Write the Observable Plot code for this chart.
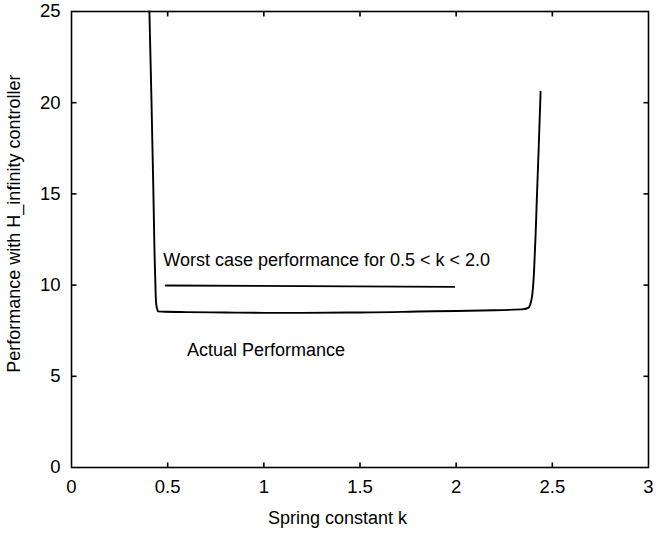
<!DOCTYPE html>
<html>
<head>
<meta charset="utf-8">
<script src="https://cdn.jsdelivr.net/npm/d3@7"></script>
<script src="https://cdn.jsdelivr.net/npm/@observablehq/plot@0.6"></script>
<style>
  html, body { margin: 0; padding: 0; background: #fff; }
</style>
</head>
<body>
<div id="chart"></div>
<script>
// Actual performance curve (spring constant k, performance)
const actualK = [0.405, 0.415, 0.425, 0.435, 0.44, 0.45, 0.6, 0.8, 1.0, 1.2, 1.5, 1.8, 2.0, 2.2, 2.35, 2.38, 2.396, 2.41, 2.42, 2.43, 2.439];
const actualV = [25, 20.5, 15.5, 10.5, 9.0, 8.55, 8.52, 8.5, 8.48, 8.48, 8.5, 8.55, 8.58, 8.62, 8.68, 8.8, 9.5, 12.0, 14.9, 17.8, 20.6];

// Worst case performance for 0.5 < k < 2.0
const worstK = [0.49, 1.99];
const worstV = [9.98, 9.9];

// Annotations
const noteText = ["Worst case performance for 0.5 < k < 2.0", "Actual Performance"];
const noteK = [0.477, 0.60];
const noteV = [11.35, 6.45];

// Axes
const xTicks = [0, 0.5, 1, 1.5, 2, 2.5, 3];
const xTickLabels = ["0", "0.5", "1", "1.5", "2", "2.5", "3"];
const yTicks = [0, 5, 10, 15, 20, 25];
const yTickLabels = ["0", "5", "10", "15", "20", "25"];
const xLabel = "Spring constant k";
const yLabel = "Performance with H_infinity controller";

const actual = actualK.map((k, i) => ({k, v: actualV[i]}));
const worst = worstK.map((k, i) => ({k, v: worstV[i]}));
const notes = noteText.map((t, i) => ({t, k: noteK[i], v: noteV[i]}));

const font = "'Liberation Sans', Arial, Helvetica, sans-serif";
const W = 656, H = 539, mL = 71, mR = 8, mT = 11, mB = 72;
const plotW = W - mL - mR, plotH = H - mT - mB, tkPx = 5;
const xMax = 3, yMax = 25;
const tkX = tkPx * xMax / plotW, tkY = tkPx * yMax / plotH;
const innerX = xTicks.slice(1, -1), innerY = yTicks.slice(1, -1);
const tickStyle = {stroke: "#000", strokeWidth: 1.6};

const chart = Plot.plot({
  width: W,
  height: H,
  marginLeft: mL,
  marginRight: mR,
  marginTop: mT,
  marginBottom: mB,
  style: {fontFamily: font, fontSize: "18px", color: "#000", background: "#fff"},
  x: {domain: [0, xMax]},
  y: {domain: [0, yMax]},
  marks: [
    Plot.frame({stroke: "#000", strokeWidth: 1.6}),
    Plot.axisX({anchor: "bottom", ticks: xTicks, tickSize: 0, tickPadding: 12,
      tickFormat: (d) => xTickLabels[xTicks.indexOf(d)], label: null, fontSize: 18.5}),
    Plot.axisY({anchor: "left", ticks: yTicks, tickSize: 0, tickPadding: 11,
      tickFormat: (d) => yTickLabels[yTicks.indexOf(d)], label: null, fontSize: 18.5}),
    // inward ticks on all four sides
    Plot.link(innerX, {x1: (d) => d, x2: (d) => d, y1: () => 0, y2: () => tkY, ...tickStyle}),
    Plot.link(innerX, {x1: (d) => d, x2: (d) => d, y1: () => yMax - tkY, y2: () => yMax, ...tickStyle}),
    Plot.link(innerY, {y1: (d) => d, y2: (d) => d, x1: () => 0, x2: () => tkX, ...tickStyle}),
    Plot.link(innerY, {y1: (d) => d, y2: (d) => d, x1: () => xMax - tkX, x2: () => xMax, ...tickStyle}),
    // curves
    Plot.line(actual, {x: "k", y: "v", stroke: "#000", strokeWidth: 1.9, curve: "monotone-y"}),
    Plot.line(worst, {x: "k", y: "v", stroke: "#000", strokeWidth: 1.9}),
    // annotations
    Plot.text(notes, {x: "k", y: "v", text: "t", textAnchor: "start", fontSize: 18, fill: "#000"}),
    // axis titles
    Plot.text([xLabel], {x: [1.383], frameAnchor: "bottom", dy: 56, text: (d) => d, fontSize: 18, fill: "#000"}),
    Plot.text([yLabel], {y: [13.37], frameAnchor: "left", dx: -57, rotate: -90, textAnchor: "middle", text: (d) => d, fontSize: 18, fill: "#000"})
  ]
});
document.getElementById("chart").appendChild(chart);
</script>
</body>
</html>
